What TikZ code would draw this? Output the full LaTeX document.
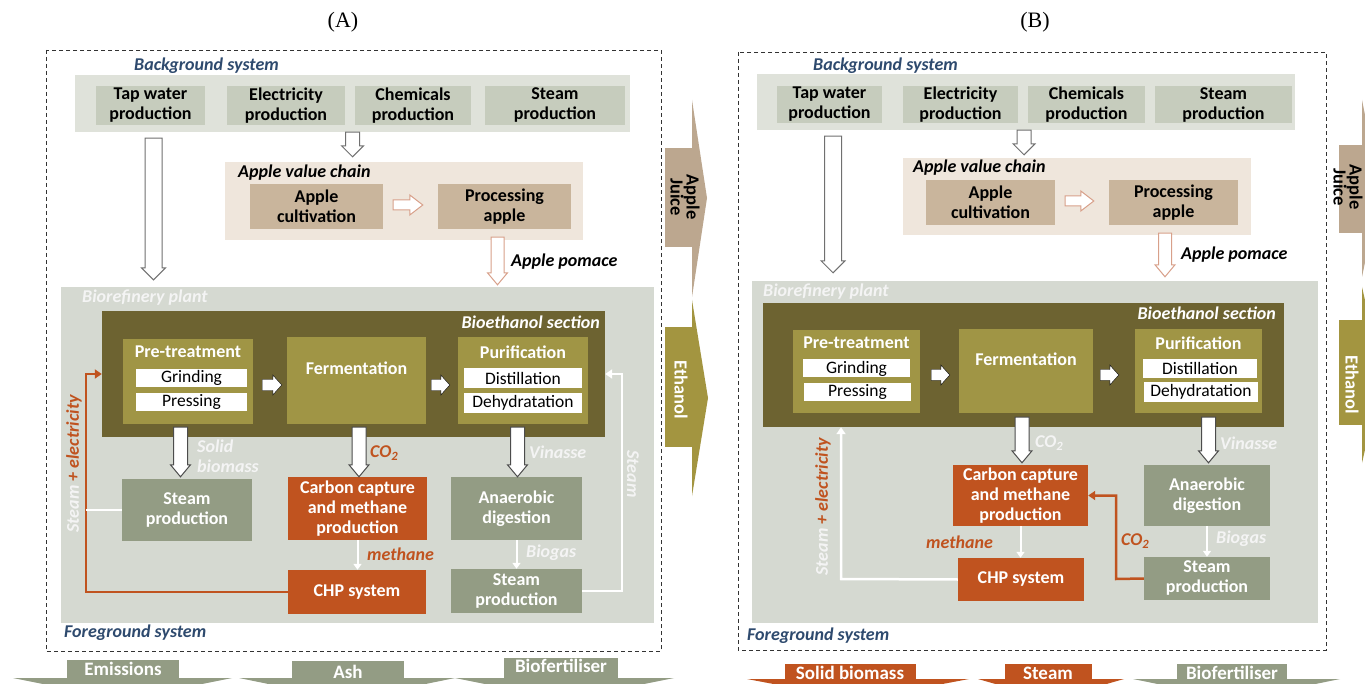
\documentclass[tikz,border=0pt]{standalone}
\usepackage{fontspec}
\setmainfont{Carlito}
\newfontfamily\panelfont{Liberation Serif}
\usetikzlibrary{arrows.meta,calc}

\definecolor{bgsys}{HTML}{DFE2DA}
\definecolor{topbox}{HTML}{C6CCBD}
\definecolor{chainbg}{HTML}{EFE6DC}
\definecolor{applebox}{HTML}{C9B59C}
\definecolor{plantbg}{HTML}{D5D9D1}
\definecolor{ethsec}{HTML}{6D6331}
\definecolor{olive}{HTML}{A09545}
\definecolor{greybox}{HTML}{939C84}
\definecolor{rust}{HTML}{C0531F}
\definecolor{navy}{HTML}{2E4A6E}
\definecolor{juice}{HTML}{BCA78F}
\definecolor{ethanolc}{HTML}{A39540}
\definecolor{arrowgrey}{HTML}{707070}
\definecolor{rustpale}{HTML}{D8A08A}
\definecolor{offwhite}{HTML}{F4F4F4}

\newcommand\boxfont{\fontsize{18}{20}\selectfont\bfseries}
\newcommand\subfont{\fontsize{17.5}{20}\selectfont}
\newcommand\lblfont{\fontsize{18}{20}\selectfont\bfseries\itshape}
\newcommand\outfont{\fontsize{19}{20}\selectfont\bfseries}
\newcommand\sidefont{\fontsize{18.5}{16}\selectfont\bfseries}

\tikzset{
  wh/.style 2 args={minimum width=#1, minimum height=#2},
  base/.style={rectangle, inner sep=0pt, align=center, font=\boxfont},
  area/.style={rectangle, inner sep=0pt},
  topbox/.style={base, fill=topbox, text=black},
  applebox/.style={base, fill=applebox, text=black},
  stepbox/.style={base, fill=olive, text=white},
  boxtxt/.style={inner sep=0pt, font=\boxfont, text=white},
  subbox/.style={base, fill=white, text=black, font=\subfont},
  greybox/.style={base, fill=greybox, text=white},
  rustbox/.style={base, fill=rust, text=white},
  lbl/.style={inner sep=0pt, font=\lblfont, align=left},
  outlbl/.style={inner sep=0pt, font=\outfont, align=center},
  sidelbl/.style={inner sep=0pt, font=\sidefont, align=center, rotate=-90},
  panel/.style={inner sep=0pt, font=\panelfont\fontsize{22}{24}\selectfont},
  dashbox/.style={draw=black!80, line width=0.9pt, dash pattern=on 4pt off 3pt},
  % block arrows: shaft half width, head half width, head length
  blk/.code n args={3}{\def\bsw{#1}\def\bhw{#2}\def\bhl{#3}},
  blkdown/.style={to path={let \p1=(\tikztostart), \p2=(\tikztotarget) in
      (\x1-\bsw,\y1) -- (\x1-\bsw,\y2+\bhl) -- (\x1-\bhw,\y2+\bhl) -- (\x1,\y2)
      -- (\x1+\bhw,\y2+\bhl) -- (\x1+\bsw,\y2+\bhl) -- (\x1+\bsw,\y1) -- cycle}},
  blkright/.style={to path={let \p1=(\tikztostart), \p2=(\tikztotarget) in
      (\x1,\y1-\bsw) -- (\x2-\bhl,\y1-\bsw) -- (\x2-\bhl,\y1-\bhw) -- (\x2,\y1)
      -- (\x2-\bhl,\y1+\bhw) -- (\x2-\bhl,\y1+\bsw) -- (\x1,\y1+\bsw) -- cycle}},
  hollow/.style={draw=arrowgrey, fill=white, line width=1pt, line join=miter},
  hollowrust/.style={draw=rustpale, fill=white, line width=1pt, line join=miter},
  downflow/.style={draw=black!70, fill=white, line width=1pt, line join=miter},
  stepflow/.style={fill=white},
  wflow/.style={draw=white, line width=2pt, -{Triangle[width=8pt,length=6pt]}},
  wline/.style={draw=white, line width=2.5pt},
  rustline/.style={draw=rust, line width=2.5pt},
  flowtip/.style={-{Triangle[width=9pt,length=7pt]}},
}

\begin{document}
\begin{tikzpicture}[x=1pt,y=-1pt]
\useasboundingbox (0,0) rectangle (1365,684);
\clip (0,0) rectangle (1365,684);
\fill[white] (0,0) rectangle (1365,684);

%%%%%%%%%%%%%%%% (A) %%%%%%%%%%%%%%%%
\node[panel] (titleA) at (343,22) {(A)};
\draw[dashbox] (46,50) rectangle (661,651);

\node[area, fill=bgsys, wh={555}{57}] (bgA) at (352.5,103.5) {};
\node[lbl, text=navy, anchor=west] (bgtA) at (134,66) {Background system};
\node[topbox, wh={109}{39}] (tapA) at (150.5,105.5) {Tap water\\production};
\node[topbox, wh={118}{39}] (elecA) at (286,105.5) {Electricity\\production};
\node[topbox, wh={116}{39}] (chemA) at (413,105.5) {Chemicals\\production};
\node[topbox, wh={140}{39}] (steamTA) at (555,105.5) {Steam\\production};

\node[area, fill=chainbg, wh={358}{78}] (chainA) at (404,201) {};
\node[lbl, anchor=west] (chaintA) at (238,173) {Apple value chain};
\node[applebox, wh={133}{45}] (cultA) at (316.5,206.5) {Apple\\cultivation};
\node[applebox, wh={133}{45}] (procA) at (504.5,206.5) {Processing\\apple};

\node[area, fill=plantbg, wh={593}{336}] (plantA) at (357.5,455) {};
\node[lbl, text=offwhite, anchor=west] (plantTA) at (82,298) {Biorefinery plant};
\node[area, fill=ethsec, wh={503}{126}] (ethA) at (353.5,374) {};
\node[lbl, text=white, anchor=east] (ethTA) at (600,322) {Bioethanol section};

\node[stepbox, wh={130}{85}] (preA) at (188,381.5) {};
\node[boxtxt] (preTA) at (188,352) {Pre-treatment};
\node[subbox, wh={111}{18}] (grindA) at (191.5,378) {Grinding};
\node[subbox, wh={111}{18}] (pressA) at (191.5,402) {Pressing};
\node[stepbox, wh={139}{87}] (fermA) at (356.5,380.5) {Fermentation\\[4pt]};
\node[stepbox, wh={130}{87}] (purA) at (523,380.5) {};
\node[boxtxt] (purTA) at (523,352) {Purification};
\node[subbox, wh={118}{20}] (distA) at (523,378) {Distillation};
\node[subbox, wh={118}{20}] (dehyA) at (523,403) {Dehydratation};

\node[greybox, wh={130}{62}] (steamA1) at (187,510) {Steam\\production};
\node[rustbox, wh={139}{63}] (ccA) at (357.5,508.5) {Carbon capture\\and methane\\production};
\node[greybox, wh={131}{63}] (anaA) at (516.5,508.5) {Anaerobic\\digestion};
\node[rustbox, wh={138}{44}] (chpA) at (357,592) {CHP system};
\node[greybox, wh={131}{44}] (steamA2) at (516.5,591) {Steam\\production};

% flows
\draw[hollow, blk={7pt}{11pt}{11pt}] (bgA.south) to[blkdown] ($(chainA.north)+(0,-5)$);
\draw[hollow, blk={8.5pt}{12pt}{12pt}] ($(tapA.south |- bgA.south)+(3,6)$) to[blkdown] ($(tapA.south |- plantA.north)+(0,-7)$);
\draw[hollowrust, blk={5pt}{10pt}{13pt}] ($(cultA.east)+(10,-1.5)$) to[blkright] ($(procA.west)+(-15,-1.5)$);
\draw[hollowrust, blk={6.5pt}{10pt}{12pt}] ($(procA.south |- chainA.south)+(-7,-3)$) to[blkdown] ($(procA.south |- plantA.north)+(0,-2)$);
\node[lbl, anchor=west] (pomA) at (511,262) {Apple pomace};

\draw[stepflow, blk={5.5pt}{10pt}{9pt}] ($(preA.east)+(9,3.5)$) to[blkright] ($(fermA.west)+(-5,3.5)$);
\draw[stepflow, blk={5.5pt}{10pt}{9pt}] ($(fermA.east)+(5,4.5)$) to[blkright] ($(purA.west)+(-8,4.5)$);

\draw[downflow, blk={7pt}{10pt}{12pt}] ($(preA.south)+(-7.5,3)$) to[blkdown] ($(steamA1.north)+(0,-2)$);
\draw[downflow, blk={7pt}{10pt}{12pt}] ($(fermA.south)+(2.5,3)$) to[blkdown] (ccA.north);
\draw[downflow, blk={7pt}{10pt}{12pt}] ($(purA.south)+(-5.5,3)$) to[blkdown] (anaA.north);
\node[lbl, text=offwhite, anchor=west] (solidA) at (197,456) {Solid\\biomass};
\node[lbl, text=rust, anchor=west] (co2A) at (370,453) {CO\textsubscript{2}};
\node[lbl, text=offwhite, anchor=west] (vinA) at (529,452) {Vinasse};

\draw[wflow] (ccA.south) -- (ccA.south |- chpA.north);
\draw[wflow] (anaA.south) -- (anaA.south |- steamA2.north);
\node[lbl, text=rust, anchor=west] (methA) at (367,554) {methane};
\node[lbl, text=offwhite, anchor=west] (biogA) at (526,553) {Biogas};

\coordinate (retLA) at (86,374);
\coordinate (retRA) at (622,374);
\draw[rustline, flowtip] (chpA.west) -| (retLA) -- (retLA -| ethA.west);
\draw[wline] (steamA1.west) -- (steamA1.west -| retLA);
\draw[wline, flowtip] (steamA2.east) -| (retRA) -- (retRA -| ethA.east);
\node[lbl, text=offwhite, rotate=-90] (steamLA) at (633,474) {Steam};
\node[lbl, text=offwhite, rotate=90] (selA) at (74,464) {Steam {\color{rust}+ electricity}};
\node[lbl, text=navy, anchor=west] (fgA) at (64,633) {Foreground system};

% products
\fill[juice] (665,148) rectangle (692,247);
\fill[juice] (692,100) -- (707,198) -- (692,297) -- cycle;
\node[sidelbl] (juiceA) at (685,197) {Apple\\Juice};
\fill[ethanolc] (665,327) rectangle (692,447);
\fill[ethanolc] (692,300) -- (708,398) -- (692,496) -- cycle;
\node[sidelbl, text=white] (ethanolA) at (681,390) {Ethanol};

\fill[greybox] (67,660) rectangle (179,679);
\fill[greybox] (13,678) -- (232,678) -- (122.5,700) -- cycle;
\node[outlbl, text=white] (emisA) at (123,669) {Emissions};
\fill[greybox] (292,661) rectangle (404,679);
\fill[greybox] (239,678) -- (455,678) -- (347,700) -- cycle;
\node[outlbl, text=white] (ashA) at (348,672) {Ash};
\fill[greybox] (504,658) rectangle (618,679);
\fill[greybox] (455,678) -- (674,678) -- (564.5,700) -- cycle;
\node[outlbl, text=white] (fertA) at (561,666) {Biofertiliser};

%%%%%%%%%%%%%%%% (B) %%%%%%%%%%%%%%%%
\node[panel] (titleB) at (1035,22) {(B)};
\draw[dashbox] (738,52) rectangle (1326,650);

\node[area, fill=bgsys, wh={538}{56}] (bgB) at (1026,102) {};
\node[lbl, text=navy, anchor=west] (bgtB) at (813,66) {Background system};
\node[topbox, wh={105}{37}] (tapB) at (829.5,104.5) {Tap water\\production};
\node[topbox, wh={115}{37}] (elecB) at (960.5,104.5) {Electricity\\production};
\node[topbox, wh={117}{37}] (chemB) at (1086.5,104.5) {Chemicals\\production};
\node[topbox, wh={137}{37}] (steamTB) at (1223.5,105) {Steam\\production};

\node[area, fill=chainbg, wh={348}{77}] (chainB) at (1077,196.5) {};
\node[lbl, anchor=west] (chaintB) at (913,168) {Apple value chain};
\node[applebox, wh={129}{45}] (cultB) at (990.5,202.5) {Apple\\cultivation};
\node[applebox, wh={129}{45}] (procB) at (1173.5,202.5) {Processing\\apple};

\node[area, fill=plantbg, wh={566}{342}] (plantB) at (1035,452) {};
\node[lbl, text=offwhite, anchor=west] (plantTB) at (763,292) {Biorefinery plant};
\node[area, fill=ethsec, wh={521}{124}] (ethB) at (1023.5,365) {};
\node[lbl, text=white, anchor=east] (ethTB) at (1276,313) {Bioethanol section};

\node[stepbox, wh={127}{83}] (preB) at (856.5,371.5) {};
\node[boxtxt] (preTB) at (856.5,343) {Pre-treatment};
\node[subbox, wh={107}{18}] (grindB) at (856.5,368.5) {Grinding};
\node[subbox, wh={107}{18}] (pressB) at (857.5,391.5) {Pressing};
\node[stepbox, wh={134}{84}] (fermB) at (1026,371) {Fermentation\\[4pt]};
\node[stepbox, wh={127}{84}] (purB) at (1198.5,371) {};
\node[boxtxt] (purTB) at (1198.5,343) {Purification};
\node[subbox, wh={114}{19}] (distB) at (1200,368.5) {Distillation};
\node[subbox, wh={114}{20}] (dehyB) at (1201,392) {Dehydratation};

\node[rustbox, wh={135}{61}] (ccB) at (1020.5,495.5) {Carbon capture\\and methane\\production};
\node[greybox, wh={126}{61}] (anaB) at (1207,495.5) {Anaerobic\\digestion};
\node[rustbox, wh={126}{43}] (chpB) at (1021,579.5) {CHP system};
\node[greybox, wh={126}{43}] (steamB) at (1207,578.5) {Steam\\production};

% flows
\draw[hollow, blk={7pt}{11pt}{11pt}] ($(bgB.south)+(-2,0)$) to[blkdown] ($(chainB.north)+(0,-3)$);
\draw[hollow, blk={8.5pt}{12pt}{12pt}] ($(tapB.south |- bgB.south)+(3.5,6)$) to[blkdown] ($(tapB.south |- plantB.north)+(0,-8)$);
\draw[hollowrust, blk={5pt}{10pt}{13pt}] ($(cultB.east)+(10,-1.5)$) to[blkright] ($(procB.west)+(-15,-1.5)$);
\draw[hollowrust, blk={6.5pt}{10pt}{12pt}] ($(procB.south |- chainB.south)+(-8.5,-2)$) to[blkdown] ($(procB.south |- plantB.north)+(0,-4)$);
\node[lbl, anchor=west] (pomB) at (1181,255) {Apple pomace};

\draw[stepflow, blk={5.5pt}{10pt}{9pt}] ($(preB.east)+(11,3.5)$) to[blkright] ($(fermB.west)+(-9,3.5)$);
\draw[stepflow, blk={5.5pt}{10pt}{9pt}] ($(fermB.east)+(7,4)$) to[blkright] ($(purB.west)+(-16,4)$);

\draw[downflow, blk={7pt}{10pt}{12pt}] ($(fermB.south)+(-4,4)$) to[blkdown] ($(ccB.north)+(0,-2)$);
\draw[downflow, blk={7pt}{10pt}{12pt}] ($(purB.south)+(10,4)$) to[blkdown] ($(anaB.north)+(0,-2)$);
\node[lbl, text=offwhite, anchor=west] (co2B) at (1035,443) {CO\textsubscript{2}};
\node[lbl, text=offwhite, anchor=west] (vinB) at (1220,443) {Vinasse};

\draw[wflow] (ccB.south) -- (ccB.south |- chpB.north);
\draw[wflow] (anaB.south) -- (anaB.south |- steamB.north);
\node[lbl, text=rust, anchor=west] (methB) at (926,542) {methane};
\node[lbl, text=offwhite, anchor=west] (biogB) at (1216,539) {Biogas};

\coordinate (upB) at (841,579);
\coordinate (coB) at (1116,579);
\draw[wline, flowtip] (chpB.west) -- (upB) -- (upB |- ethB.south);
\draw[rustline, flowtip] (steamB.west) -- (coB) |- (ccB.east);
\node[lbl, text=rust, anchor=west] (co2rB) at (1121,541) {CO\textsubscript{2}};
\node[lbl, text=offwhite, rotate=90] (selB) at (823,507) {Steam {\color{rust}+ electricity}};
\node[lbl, text=navy, anchor=west] (fgB) at (747,636) {Foreground system};

% products
\fill[juice] (1339,145) rectangle (1362,233);
\fill[juice] (1362,100) -- (1380,189) -- (1362,277) -- cycle;
\node[sidelbl] (juiceB) at (1348,187) {Apple\\Juice};
\fill[ethanolc] (1339,320) rectangle (1370,425);
\fill[ethanolc] (1362,287) -- (1382,375) -- (1362,463) -- cycle;
\node[sidelbl, text=white] (ethanolB) at (1352,385) {Ethanol};

\fill[rust] (785,664) rectangle (916,680);
\fill[rust] (747,679) -- (969,679) -- (858,700) -- cycle;
\node[outlbl, text=white] (solidB) at (850,673) {Solid biomass};
\fill[rust] (1005,664) rectangle (1092,680);
\fill[rust] (978,679) -- (1124,679) -- (1051,700) -- cycle;
\node[outlbl, text=white] (steamOB) at (1048,673) {Steam};
\fill[greybox] (1177,664) rectangle (1287,680);
\fill[greybox] (1133,679) -- (1340,679) -- (1236.5,700) -- cycle;
\node[outlbl, text=white] (fertB) at (1232,673) {Biofertiliser};

\end{tikzpicture}
\end{document}
